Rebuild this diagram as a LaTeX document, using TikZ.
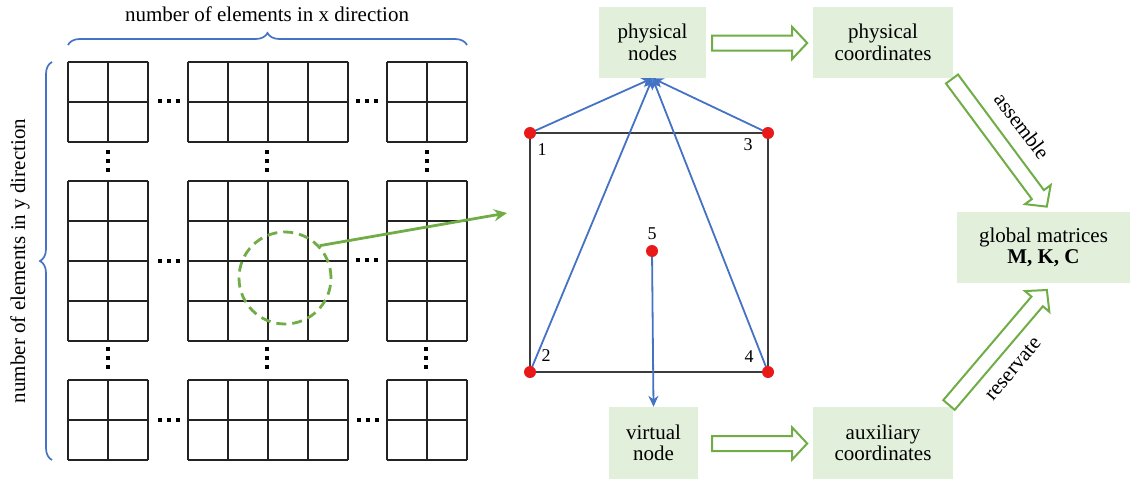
\documentclass[tikz,border=0pt]{standalone}
\usepackage{fontspec}
\setmainfont{Liberation Serif}
\usetikzlibrary{decorations.pathreplacing,arrows.meta,calc}
\definecolor{myblue}{RGB}{68,114,196}
\definecolor{mygreen}{RGB}{112,173,71}
\definecolor{boxfill}{RGB}{226,239,218}
\definecolor{dotred}{RGB}{232,25,25}
\definecolor{gridc}{RGB}{35,35,35}
\definecolor{sqc}{RGB}{60,60,60}
\newcommand\fs{\fontsize{21}{21.5}\selectfont}
\newcommand\gridblock[5]{% x0 y0 ncols nrows rowh
  \foreach \i in {0,...,#3} \draw[gridline] ({#1+40*\i},#2) -- ++(0,{#4*#5});
  \foreach \j in {0,...,#4} \draw[gridline] (#1,{#2+#5*\j}) -- ++({40*#3},0);
}
\newcommand\hollowarrow[3]{% start, angle, length
  \begin{scope}[shift={(#1)},rotate=#2]
    \draw[hollow] (0,-7.5) -- ({#3-15},-7.5) -- ({#3-15},-16) -- (#3,0) -- ({#3-15},16) -- ({#3-15},7.5) -- (0,7.5) -- cycle;
  \end{scope}}
\newcommand\hdotsat[2]{\foreach \k in {-9,0,9} \fill[black] ({#1+\k-1.8},{#2-1.8}) rectangle ++(3.6,3.6);}
\newcommand\vdotsat[2]{\foreach \k in {-9,0,9} \fill[black] ({#1-1.8},{#2+\k-1.8}) rectangle ++(3.6,3.6);}
\begin{document}
\begin{tikzpicture}[x=1pt,y=-1pt,
  gridline/.style={draw=gridc,line width=1.4pt},
  box/.style={fill=boxfill,align=center,inner sep=0pt,font=\fs},
  hollow/.style={draw=mygreen,fill=white,line width=2pt,line join=miter},
  bluearrow/.style={draw=myblue,line width=1.8pt,-{Stealth[length=11pt,width=10pt]}},
  reddot/.style={circle,fill=dotred,minimum size=12pt,inner sep=0pt},
  numlab/.style={font=\fontsize{18}{18}\selectfont,inner sep=0pt},
  bracestyle/.style={draw=myblue,line width=1.7pt,decorate,decoration={brace,amplitude=12pt}}]
\useasboundingbox (0,0) rectangle (1132,479);

% labels and braces
\node[font=\fs] (xlab) at (267,14) {number of elements in x direction};
\node[font=\fs,rotate=90] (ylab) at (20,261) {number of elements in y direction};
\draw[bracestyle] (68,45) -- (467,45);
\draw[bracestyle] (52,460) -- (52,62);

% grid blocks
\gridblock{68}{62}{2}{2}{40}
\gridblock{188}{62}{4}{2}{40}
\gridblock{387}{62}{2}{2}{40}
\gridblock{68}{181}{2}{4}{40}
\gridblock{188}{181}{4}{4}{40}
\gridblock{387}{181}{2}{4}{40}
\gridblock{68}{380}{2}{2}{40}
\gridblock{188}{380}{4}{2}{40}
\gridblock{387}{380}{2}{2}{40}

% dots
\hdotsat{169}{101}\hdotsat{367}{101}
\hdotsat{169}{261}\hdotsat{367}{260}
\hdotsat{169}{420}\hdotsat{368}{420}
\vdotsat{108}{161}\vdotsat{267}{161}\vdotsat{427}{161}
\vdotsat{108}{358}\vdotsat{267}{358}\vdotsat{426}{358}

% zoom circle and arrow
\node[circle,draw=mygreen,line width=2.8pt,dash pattern=on 10pt off 6pt,minimum size=92pt,inner sep=0pt] (zoom) at (285,278) {};
\coordinate (ztip) at (507,213);
\draw[mygreen,line width=2.8pt,-{Stealth[length=13pt,width=12pt]}] (zoom.43) -- (ztip);

% boxes
\node[box,minimum width=107pt,minimum height=71pt] (pn) at (652.5,42.5) {physical\\nodes};
\node[box,minimum width=140pt,minimum height=71pt] (pc) at (883,42.5) {physical\\coordinates};
\node[box,minimum width=89pt,minimum height=72pt] (vn) at (653.5,443) {virtual\\node};
\node[box,minimum width=140pt,minimum height=72pt] (ac) at (883,443) {auxiliary\\coordinates};
\node[box,minimum width=173pt,minimum height=71pt] (gm) at (1043.5,247.5) {global matrices\\\textbf{M, K, C}};

% element
\coordinate (c1) at (530,133);
\coordinate (c3) at (768,133);
\coordinate (c2) at (530,372);
\coordinate (c4) at (768,372);
\coordinate (c5) at (652,251);
\draw[draw=sqc,line width=1.7pt] (c1) -- (c3) -- (c4) -- (c2) -- cycle;
\draw[bluearrow] (c1) -- (pn.south);
\draw[bluearrow] (c3) -- (pn.south);
\draw[bluearrow] (c2) -- (pn.south);
\draw[bluearrow] (c4) -- (pn.south);
\draw[bluearrow] (c5) -- (vn.north);
\node[reddot] (d1) at (c1) {};
\node[reddot] (d2) at (c2) {};
\node[reddot] (d3) at (c3) {};
\node[reddot] (d4) at (c4) {};
\node[reddot] (d5) at (c5) {};
\node[numlab] (l1) at (542,150) {1};
\node[numlab] (l3) at (748,145) {3};
\node[numlab] (l2) at (546,356) {2};
\node[numlab] (l4) at (749,357) {4};
\node[numlab] (l5) at (652,234) {5};

% hollow arrows
\hollowarrow{$(pn.east)+(6,0.5)$}{0}{95}
\hollowarrow{$(vn.east)+(14,0.5)$}{0}{95}
\hollowarrow{952,79}{-53.4}{159}
\hollowarrow{949,405}{49.6}{151}
\node[font=\fs,rotate=-53] (asm) at (1022,126) {assemble};
\node[font=\fs,rotate=50] (res) at (1013,369) {reservate};
\end{tikzpicture}
\end{document}
